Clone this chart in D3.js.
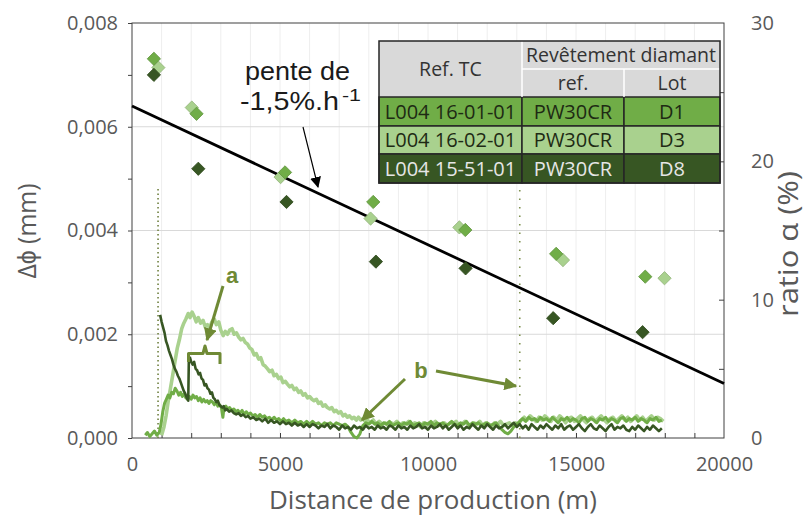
<!DOCTYPE html>
<html><head><meta charset="utf-8">
<script src="https://cdn.jsdelivr.net/npm/d3@7"></script>
<style>body{margin:0;background:#fff;} svg{display:block;}</style>
</head><body>
<svg id="c" width="807" height="517"></svg>
<script>
// ---------- DATA ----------
const xTicks = [0, 5000, 10000, 15000, 20000];
const yLeftTicks = [0, 0.002, 0.004, 0.006, 0.008];
const yRightTicks = [0, 10, 20, 30];
const seriesNames = ["D1", "D3", "D8"];
const seriesColors = ["#70AD47", "#A9D18E", "#375623"];
// Δϕ (mm) diamonds: [distance m, value mm]
const diamondsD1 = [[740,0.00731],[2180,0.00625],[5170,0.00512],[8150,0.00455],[11260,0.00401],[14330,0.00355],[17340,0.00311]];
const diamondsD3 = [[890,0.00714],[2020,0.00637],[5020,0.00503],[8060,0.00423],[11060,0.00406],[14560,0.00343],[17990,0.00308]];
const diamondsD8 = [[740,0.00700],[2240,0.00519],[5220,0.00455],[8240,0.00340],[11270,0.00327],[14230,0.00231],[17250,0.00204]];
// trend line (pente de -1,5%.h-1)
const trendLine = [[0,0.00640],[20000,0.00105]];
// ratio α (%) curves: [distance m, %]
const curveD3 = [[1000,0.2],[1080,0.8],[1150,1.6],[1220,2.6],[1300,3.6],[1380,4.6],[1450,5.5],[1530,6.5],[1600,7.1],[1680,7.9],[1750,8.3],[1820,8.6],[1900,9.0],[1960,8.7],[2030,9.1],[2100,8.8],[2170,8.4],[2240,8.7],[2320,8.3],[2400,8.5],[2480,8.0],[2550,8.2],[2630,8.0],[2700,8.4],[2780,8.6],[2850,8.2],[2930,8.4],[3000,7.8],[3080,7.4],[3150,7.7],[3230,7.5],[3300,7.8],[3380,7.9],[3450,7.5],[3530,7.6],[3600,7.3],[3680,7.1],[3750,7.2],[3830,6.9],[3900,6.8],[3980,6.5],[4050,6.4],[4130,6.0],[4200,6.1],[4280,5.7],[4350,5.8],[4430,5.3],[4500,5.2],[4580,5.0],[4650,4.8],[4730,4.9],[4800,4.5],[4880,4.6],[4950,4.3],[5030,4.4],[5100,4.0],[5180,4.1],[5250,3.9],[5330,3.7],[5400,3.8],[5480,3.5],[5550,3.6],[5630,3.3],[5700,3.4],[5780,3.1],[5850,3.2],[5930,2.9],[6000,3.0],[6080,2.8],[6150,2.7],[6230,2.8],[6300,2.5],[6380,2.6],[6450,2.3],[6530,2.4],[6600,2.2],[6680,2.1],[6750,2.2],[6830,1.9],[6900,2.0],[6980,1.8],[7050,1.9],[7130,1.6],[7200,1.7],[7280,1.5],[7350,1.6],[7430,1.4],[7500,1.5],[7580,1.3],[7650,1.5],[7730,1.3],[7800,1.4],[7880,1.2],[7950,1.3],[8050,1.1],[8150,1.3],[8250,1.0],[8350,1.2],[8450,1.0],[8550,1.1],[8650,0.9],[8750,1.1],[8850,1.0],[8950,1.2],[9050,0.9],[9150,1.1],[9250,1.0],[9350,1.2],[9450,0.9],[9550,1.1],[9650,1.0],[9750,0.8],[9850,1.1],[9950,0.9],[10050,1.1],[10150,1.0],[10250,1.2],[10350,0.9],[10450,1.0],[10550,1.1],[10650,0.9],[10750,1.1],[10850,1.0],[10950,1.2],[11050,0.9],[11150,1.0],[11250,1.2],[11350,1.0],[11450,0.9],[11550,1.1],[11650,1.0],[11750,1.2],[11850,0.9],[11950,1.1],[12050,1.0],[12150,0.8],[12250,1.1],[12350,1.0],[12450,1.2],[12550,0.9],[12650,1.0],[12750,1.1],[12850,0.9],[12950,1.1],[13050,1.0],[13150,1.3],[13250,1.5],[13350,1.3],[13450,1.6],[13550,1.4],[13650,1.2],[13750,1.5],[13850,1.3],[13950,1.6],[14050,1.4],[14150,1.2],[14250,1.5],[14350,1.3],[14450,1.6],[14550,1.4],[14650,1.1],[14750,1.4],[14850,1.5],[14950,1.2],[15050,1.4],[15150,1.6],[15250,1.3],[15350,1.1],[15450,1.4],[15550,1.5],[15650,1.2],[15750,1.4],[15850,1.6],[15950,1.3],[16050,1.1],[16150,1.4],[16250,1.5],[16350,1.2],[16450,1.4],[16550,1.6],[16650,1.3],[16750,1.5],[16850,1.2],[16950,1.4],[17050,1.6],[17150,1.3],[17250,1.5],[17350,1.2],[17450,1.4],[17550,1.6],[17650,1.3],[17750,1.5],[17850,1.4],[17950,1.2]];
const curveD1 = [[450,0.2],[520,0.4],[600,0.1],[680,0.3],[760,0.5],[840,0.2],[920,0.4],[980,1.0],[1040,1.9],[1100,2.5],[1160,2.8],[1220,3.1],[1280,2.9],[1340,3.3],[1400,3.2],[1460,3.6],[1520,3.4],[1580,3.1],[1640,3.3],[1700,3.0],[1760,3.2],[1820,2.9],[1880,2.8],[1940,3.0],[2000,2.8],[2060,3.1],[2120,2.9],[2180,3.0],[2240,2.7],[2300,2.9],[2360,2.6],[2420,2.8],[2480,2.6],[2540,2.7],[2600,2.5],[2660,2.7],[2720,2.6],[2780,2.4],[2840,2.6],[2900,2.3],[2960,2.4],[3020,2.2],[3070,1.5],[3110,2.2],[3170,2.3],[3230,2.1],[3300,2.2],[3370,2.0],[3440,2.1],[3510,1.9],[3580,2.0],[3650,1.8],[3720,2.0],[3790,1.7],[3860,1.9],[3930,1.7],[4000,1.8],[4080,1.6],[4160,1.7],[4240,1.5],[4320,1.7],[4400,1.5],[4480,1.6],[4560,1.4],[4640,1.5],[4720,1.3],[4800,1.5],[4880,1.3],[4960,1.4],[5040,1.2],[5120,1.4],[5200,1.2],[5300,1.3],[5400,1.1],[5500,1.3],[5600,1.1],[5700,1.2],[5800,1.0],[5900,1.2],[6000,1.0],[6100,1.2],[6200,1.0],[6300,1.1],[6400,0.9],[6500,1.1],[6600,1.0],[6700,1.1],[6800,0.9],[6900,1.1],[7000,1.0],[7100,0.9],[7200,1.0],[7300,0.8],[7400,0.4],[7500,0.1],[7600,0.0],[7700,0.3],[7800,0.9],[7900,1.1],[8000,1.0],[8100,1.2],[8200,1.0],[8300,1.1],[8400,0.9],[8500,1.1],[8600,1.0],[8700,1.2],[8800,0.9],[8900,1.0],[9000,1.1],[9100,0.9],[9200,1.1],[9300,1.0],[9400,1.2],[9500,0.9],[9600,1.0],[9700,1.1],[9800,0.9],[9900,1.1],[10000,1.0],[10100,1.2],[10200,0.9],[10300,1.1],[10400,1.0],[10500,1.1],[10600,0.9],[10700,1.0],[10800,1.2],[10900,1.0],[11000,0.9],[11100,1.1],[11200,1.0],[11300,1.2],[11400,0.9],[11500,1.1],[11600,1.0],[11700,1.1],[11800,0.9],[11900,1.0],[12000,1.1],[12100,0.9],[12200,1.0],[12300,1.1],[12400,0.8],[12500,0.6],[12600,0.4],[12700,0.3],[12800,0.5],[12900,0.8],[13000,1.0],[13100,1.2],[13200,1.4],[13300,1.2],[13400,1.5],[13500,1.3],[13600,1.4],[13700,1.2],[13800,1.5],[13900,1.3],[14000,1.4],[14100,1.2],[14200,1.5],[14300,1.3],[14400,1.1],[14500,1.4],[14600,1.3],[14700,1.5],[14800,1.2],[14900,1.4],[15000,1.3],[15100,1.1],[15200,1.4],[15300,1.5],[15400,1.2],[15500,1.4],[15600,1.3],[15700,1.1],[15800,1.4],[15900,1.3],[16000,1.5],[16100,1.2],[16200,1.4],[16300,1.3],[16400,1.1],[16500,1.4],[16600,1.5],[16700,1.2],[16800,1.4],[16900,1.3],[17000,1.5],[17100,1.2],[17200,1.4],[17300,1.3],[17400,1.1],[17500,1.4],[17600,1.3],[17700,1.5],[17800,1.2],[17900,1.3]];
const curveD8 = [[950,8.9],[1000,8.4],[1050,8.0],[1100,7.6],[1150,7.0],[1200,6.7],[1250,6.3],[1300,6.0],[1350,5.7],[1400,5.3],[1450,5.0],[1500,4.8],[1550,4.5],[1600,4.3],[1650,4.0],[1700,3.7],[1750,3.4],[1800,3.2],[1850,2.9],[1900,2.7],[1920,5.6],[1960,5.8],[2000,5.5],[2050,5.3],[2100,5.5],[2150,5.0],[2200,4.9],[2250,4.6],[2300,4.7],[2350,4.3],[2400,4.2],[2450,3.8],[2500,3.9],[2550,3.6],[2600,3.5],[2650,3.2],[2700,3.3],[2750,2.9],[2800,2.8],[2850,2.6],[2900,2.7],[2950,2.4],[3000,2.3],[3050,2.2],[3100,2.3],[3150,2.0],[3200,2.1],[3280,1.9],[3360,2.0],[3440,1.8],[3520,1.7],[3600,1.8],[3680,1.6],[3760,1.7],[3840,1.5],[3920,1.6],[4000,1.4],[4100,1.5],[4200,1.3],[4300,1.4],[4400,1.2],[4500,1.4],[4600,1.1],[4700,1.3],[4800,1.1],[4900,1.2],[5000,1.0],[5100,1.2],[5200,1.0],[5300,1.1],[5400,0.9],[5500,1.1],[5600,0.9],[5700,1.0],[5800,0.8],[5900,1.0],[6000,0.8],[6100,1.0],[6200,0.9],[6300,0.7],[6400,0.9],[6500,0.8],[6600,1.0],[6700,0.7],[6800,0.9],[6900,0.8],[7000,0.6],[7100,0.9],[7200,0.7],[7300,0.8],[7400,0.6],[7500,0.9],[7600,0.7],[7700,0.8],[7800,0.6],[7900,0.9],[8000,0.7],[8100,0.8],[8200,0.6],[8300,0.9],[8400,0.7],[8500,0.8],[8600,0.6],[8700,0.9],[8800,0.8],[8900,0.6],[9000,0.9],[9100,0.7],[9200,0.8],[9300,0.6],[9400,0.9],[9500,0.7],[9600,0.8],[9700,1.0],[9800,0.7],[9900,0.8],[10000,0.6],[10100,0.9],[10200,0.7],[10300,0.8],[10400,1.0],[10500,0.7],[10600,0.9],[10700,0.6],[10800,0.8],[10900,1.0],[11000,0.7],[11100,0.9],[11200,0.6],[11300,0.8],[11400,0.7],[11500,1.0],[11600,0.8],[11700,0.6],[11800,0.9],[11900,0.7],[12000,1.0],[12100,0.8],[12200,0.6],[12300,0.9],[12400,0.7],[12500,0.8],[12600,1.0],[12700,0.7],[12800,0.9],[12900,1.1],[13000,0.8],[13100,1.0],[13200,0.7],[13300,0.9],[13400,0.6],[13500,1.0],[13600,0.8],[13700,0.6],[13800,0.9],[13900,0.7],[14000,1.0],[14100,0.8],[14200,0.6],[14300,0.9],[14400,0.7],[14500,1.0],[14600,0.6],[14700,0.8],[14800,0.9],[14900,0.6],[15000,0.8],[15100,1.0],[15200,0.7],[15300,0.5],[15400,0.8],[15500,1.0],[15600,0.7],[15700,0.6],[15800,0.9],[15900,0.7],[16000,0.5],[16100,0.8],[16200,1.0],[16300,0.6],[16400,0.8],[16500,0.7],[16600,0.9],[16700,0.6],[16800,0.5],[16900,0.8],[17000,0.6],[17100,0.9],[17200,0.7],[17300,0.5],[17400,0.8],[17500,0.6],[17600,0.9],[17700,0.7],[17800,0.5],[17900,0.7]];
// dotted vertical marks (ratio α %)
const dottedA = [[880,0],[880,18.2]];
const dottedB = [[13100,0],[13100,19.5]];
// table
const tableHeader = ["Ref. TC", "Revêtement diamant", "ref.", "Lot"];
const tableRows = [["L004 16-01-01","PW30CR","D1"],["L004 16-02-01","PW30CR","D3"],["L004 15-51-01","PW30CR","D8"]];
const tableTextColors = ["#1e2a14", "#1e2a14", "#e6e6e6"];

// ---------- LAYOUT ----------
const L = 132, R = 724, T = 23, B = 438;
const svg = d3.select("#c");
const x = d3.scaleLinear().domain([0, 20000]).range([L, R]);
const yL = d3.scaleLinear().domain([0, 0.008]).range([B, T]);
const yR = d3.scaleLinear().domain([0, 30]).range([B, T]);
const FONT = "'Open Sans', sans-serif";
const ARIAL = "'Liberation Sans', Arial, sans-serif";
const GREY = "#595959";

// gridlines
svg.append("g").selectAll("line").data(d3.range(1000, 20000, 1000)).join("line")
  .attr("x1", d => x(d)).attr("x2", d => x(d)).attr("y1", T).attr("y2", B)
  .attr("stroke", "#eeeeee").attr("stroke-width", 1);
svg.append("g").selectAll("line").data([0.002, 0.004, 0.006]).join("line")
  .attr("x1", L).attr("x2", R).attr("y1", d => yL(d)).attr("y2", d => yL(d))
  .attr("stroke", "#d9d9d9").attr("stroke-width", 1);

// frame
svg.append("rect").attr("x", L).attr("y", T).attr("width", R - L).attr("height", B - T)
  .attr("fill", "none").attr("stroke", "#404040").attr("stroke-width", 1);

// axes
const fmt = d => d3.format(".3f")(d).replace(".", ",");
const gl = svg.append("g").attr("transform", `translate(${L},0)`)
  .call(d3.axisLeft(yL).tickValues(yLeftTicks).tickFormat(fmt).tickSize(0).tickPadding(14));
const glm = svg.append("g").attr("transform", `translate(${L},0)`)
  .call(d3.axisLeft(yL).tickValues(d3.range(0, 0.0081, 0.001)).tickFormat("").tickSize(4));
const gb = svg.append("g").attr("transform", `translate(0,${B})`)
  .call(d3.axisBottom(x).tickValues(xTicks).tickFormat(d => d).tickSize(0).tickPadding(19));
const gbm = svg.append("g").attr("transform", `translate(0,${B})`)
  .call(d3.axisBottom(x).tickValues(d3.range(1000, 20000, 1000)).tickFormat("").tickSize(-5));
const gr = svg.append("g").attr("transform", `translate(${R},0)`)
  .call(d3.axisRight(yR).tickValues(yRightTicks).tickSize(0).tickPadding(27));
const grm = svg.append("g").attr("transform", `translate(${R},0)`)
  .call(d3.axisRight(yR).tickValues(d3.range(5, 30, 5)).tickFormat("").tickSize(-5));
[gl, glm, gb, gbm, gr, grm].forEach(g => {
  g.select(".domain").remove();
  g.selectAll("line").attr("stroke", "#404040");
  g.selectAll("text").attr("font-family", FONT).attr("font-size", 20).attr("fill", GREY);
});

// axis titles
svg.append("text").attr("transform", "translate(36,231) rotate(-90)").attr("text-anchor", "middle")
  .attr("font-family", FONT).attr("font-size", 25).attr("fill", GREY)
  .attr("textLength", 95).attr("lengthAdjust", "spacingAndGlyphs").text("Δϕ (mm)");
svg.append("text").attr("transform", "translate(798,244) rotate(-90)").attr("text-anchor", "middle")
  .attr("font-family", FONT).attr("font-size", 27).attr("fill", GREY)
  .attr("textLength", 146).attr("lengthAdjust", "spacingAndGlyphs").text("ratio α (%)");
svg.append("text").attr("x", 433).attr("y", 509).attr("text-anchor", "middle")
  .attr("font-family", FONT).attr("font-size", 25).attr("fill", GREY)
  .attr("textLength", 328).attr("lengthAdjust", "spacingAndGlyphs").text("Distance de production (m)");

// curves
const lineR = d3.line().x(d => x(d[0])).y(d => yR(d[1]));
svg.append("path").datum(dottedA).attr("d", lineR).attr("fill", "none")
  .attr("stroke", "#6f8040").attr("stroke-width", 1.6).attr("stroke-dasharray", "1.5,3");
svg.append("path").datum(dottedB).attr("d", lineR).attr("fill", "none")
  .attr("stroke", "#7f9050").attr("stroke-width", 1.6).attr("stroke-dasharray", "1.5,7");
const curves = [[curveD3, seriesColors[1], 3.6], [curveD1, seriesColors[0], 3], [curveD8, seriesColors[2], 2.6]];
curves.forEach(([data, col, w]) => {
  svg.append("path").datum(data).attr("d", lineR).attr("fill", "none")
    .attr("stroke", col).attr("stroke-width", w).attr("stroke-linejoin", "round");
});

// trend line
const lineL = d3.line().x(d => x(d[0])).y(d => yL(d[1]));
svg.append("path").datum(trendLine).attr("d", lineL).attr("stroke", "#000").attr("stroke-width", 2.8).attr("fill", "none");

// diamonds
const diamond = d3.symbol(d3.symbolSquare, 88);
[[diamondsD3, seriesColors[1]], [diamondsD1, seriesColors[0]], [diamondsD8, seriesColors[2]]].forEach(([data, col]) => {
  svg.append("g").selectAll("path").data(data).join("path")
    .attr("d", diamond).attr("transform", d => `translate(${x(d[0])},${yL(d[1])}) rotate(45)`)
    .attr("fill", col).attr("stroke", d3.color(col).darker(0.4)).attr("stroke-width", 0.8);
});

// annotations
const defs = svg.append("defs");
function marker(id, col, sz) {
  defs.append("marker").attr("id", id).attr("viewBox", "0 0 10 10").attr("refX", 9).attr("refY", 5)
    .attr("markerWidth", sz).attr("markerHeight", sz).attr("orient", "auto").attr("markerUnits", "userSpaceOnUse")
    .append("path").attr("d", "M0,0 L10,5 L0,10 Z").attr("fill", col);
}
marker("ak", "#000", 11);
marker("ag", "#6f8a35", 13);
const OLIVE = "#6f8a35";
svg.append("text").attr("x", 245).attr("y", 80).attr("font-family", ARIAL)
  .attr("font-size", 25).attr("fill", "#1a1a1a")
  .attr("textLength", 105).attr("lengthAdjust", "spacingAndGlyphs").text("pente de");
svg.append("text").attr("x", 240).attr("y", 110).attr("font-family", ARIAL)
  .attr("font-size", 25).attr("fill", "#1a1a1a")
  .attr("textLength", 99).attr("lengthAdjust", "spacingAndGlyphs").text("-1,5%.h");
svg.append("text").attr("x", 342).attr("y", 101).attr("font-family", ARIAL)
  .attr("font-size", 16).attr("fill", "#1a1a1a")
  .attr("textLength", 19).attr("lengthAdjust", "spacingAndGlyphs").text("-1");
svg.append("line").attr("x1", 303).attr("y1", 127).attr("x2", 318).attr("y2", 187)
  .attr("stroke", "#000").attr("stroke-width", 1.2).attr("marker-end", "url(#ak)");

svg.append("text").attr("x", 232).attr("y", 283).attr("text-anchor", "middle").attr("font-family", ARIAL)
  .attr("font-weight", "bold").attr("font-size", 22).attr("fill", OLIVE).text("a");
svg.append("line").attr("x1", 223).attr("y1", 286).attr("x2", 207).attr("y2", 340)
  .attr("stroke", OLIVE).attr("stroke-width", 3).attr("marker-end", "url(#ag)");
svg.append("path").attr("d", "M188.5,362 L188.5,353.5 L203,353.5 L205,346 L207,353.5 L220,353.5 L220,364")
  .attr("fill", "none").attr("stroke", OLIVE).attr("stroke-width", 3).attr("stroke-linejoin", "round");

svg.append("text").attr("x", 421).attr("y", 378).attr("text-anchor", "middle").attr("font-family", ARIAL)
  .attr("font-weight", "bold").attr("font-size", 22).attr("fill", OLIVE).text("b");
svg.append("line").attr("x1", 405).attr("y1", 379).attr("x2", 362).attr("y2", 420)
  .attr("stroke", OLIVE).attr("stroke-width", 3).attr("marker-end", "url(#ag)");
svg.append("line").attr("x1", 436).attr("y1", 371).attr("x2", 516).attr("y2", 386)
  .attr("stroke", OLIVE).attr("stroke-width", 3).attr("marker-end", "url(#ag)");

// table
const cx = [379, 522, 624, 720];
const ry = [41, 69, 97, 126, 154, 183];
const tg = svg.append("g");
tg.append("rect").attr("x", cx[0]).attr("y", ry[0]).attr("width", cx[3] - cx[0]).attr("height", ry[2] - ry[0]).attr("fill", "#d9d9d9");
tableRows.forEach((row, i) => {
  row.forEach((cell, j) => {
    tg.append("rect").attr("x", cx[j]).attr("y", ry[i + 2]).attr("width", cx[j + 1] - cx[j]).attr("height", ry[i + 3] - ry[i + 2])
      .attr("fill", seriesColors[i]).attr("stroke", "#262626").attr("stroke-width", 1.5);
    tg.append("text").attr("x", (cx[j] + cx[j + 1]) / 2).attr("y", (ry[i + 2] + ry[i + 3]) / 2 + 7)
      .attr("text-anchor", "middle").attr("font-family", FONT).attr("font-size", 20).attr("fill", tableTextColors[i]).text(cell);
  });
});
// header white dividers
tg.append("line").attr("x1", cx[1]).attr("x2", cx[1]).attr("y1", ry[0]).attr("y2", ry[2]).attr("stroke", "#fff").attr("stroke-width", 1.5);
tg.append("line").attr("x1", cx[2]).attr("x2", cx[2]).attr("y1", ry[1]).attr("y2", ry[2]).attr("stroke", "#fff").attr("stroke-width", 1.5);
tg.append("line").attr("x1", cx[1]).attr("x2", cx[3]).attr("y1", ry[1]).attr("y2", ry[1]).attr("stroke", "#fff").attr("stroke-width", 1.5);
const hdr = [[tableHeader[0], (cx[0] + cx[1]) / 2, (ry[0] + ry[2]) / 2 + 7], [tableHeader[1], (cx[1] + cx[3]) / 2, (ry[0] + ry[1]) / 2 + 7],
  [tableHeader[2], (cx[1] + cx[2]) / 2, (ry[1] + ry[2]) / 2 + 7], [tableHeader[3], (cx[2] + cx[3]) / 2, (ry[1] + ry[2]) / 2 + 7]];
hdr.forEach(([t, tx, ty]) => tg.append("text").attr("x", tx).attr("y", ty).attr("text-anchor", "middle")
  .attr("font-family", FONT).attr("font-size", 19.5).attr("fill", "#333").text(t));
tg.append("rect").attr("x", cx[0]).attr("y", ry[0]).attr("width", cx[3] - cx[0]).attr("height", ry[5] - ry[0])
  .attr("fill", "none").attr("stroke", "#262626").attr("stroke-width", 1.5);
</script>
</body></html>
